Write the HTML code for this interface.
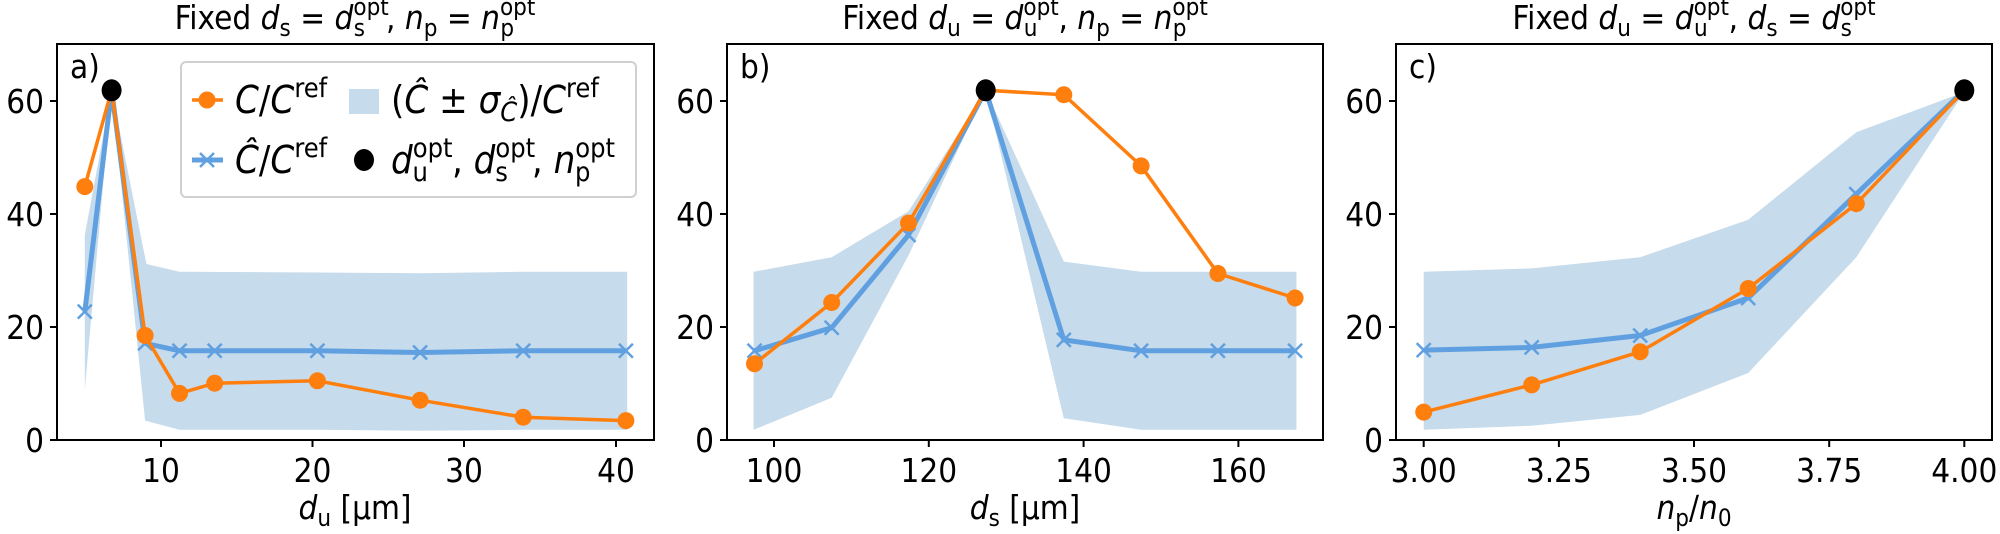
<!DOCTYPE html>
<html><head><meta charset="utf-8"><style>
body{margin:0;background:#fff}
svg{display:block;font-family:"DejaVu Sans Condensed","DejaVu Sans","Liberation Sans",sans-serif}
.t{font-size:33px;fill:#000}
.i{font-style:italic}
.s{font-size:24px}
.L{font-size:38px;fill:#000}
.ls{font-size:27px}
</style></head><body>
<svg width="2000" height="534" viewBox="0 0 2000 534" xmlns="http://www.w3.org/2000/svg">
<polygon fill="#c6dbeb" points="84.8,235 111.6,90.3 146.4,264 179.5,271.8 317.4,272.5 420.1,273.2 523.2,271.8 627.2,271.8 627.2,429.8 523.2,429.8 420.1,430.8 317.4,429.8 179.5,429.8 145.1,420.6 111.6,90.3 84.8,389.3"/>
<polygon fill="#c6dbeb" points="753.6,271.8 831.7,257.2 908.5,211.2 985.7,90.3 1063.8,261.6 1141.1,271.8 1217.9,271.8 1296.4,271.8 1296.4,429.8 1217.9,429.8 1141.1,429.8 1063.8,418.3 985.7,90.3 908.5,255.4 831.7,397.8 753.6,429.8"/>
<polygon fill="#c6dbeb" points="1423.7,271.8 1531.7,268.4 1640.2,257.2 1748.2,219.7 1856.3,132.2 1964.3,92 1856.3,257.2 1748.2,373 1640.2,414.9 1531.7,425.7 1423.7,429.8"/>
<g fill="none" stroke="#60a0e0" stroke-width="5" stroke-linejoin="round">
<polyline points="84.8,311.6 111.6,90.3 145.1,343.3 179.5,350.8 214.7,350.8 317.4,350.8 420.1,352.5 523.2,350.8 625.9,350.8"/>
<polyline points="754.5,350.8 831.7,327.7 908.5,235 985.7,90.3 1063.8,339.9 1141.1,350.8 1217.9,350.8 1295.1,350.8"/>
<polyline points="1423.7,350.1 1531.7,347.4 1640.2,335.5 1748.2,298 1856.3,194.1 1964.3,90.3"/>
</g>
<g stroke="#60a0e0" stroke-width="2.5">
<path d="M77.8 304.6l14 14M91.8 304.6l-14 14M138.1 336.3l14 14M152.1 336.3l-14 14M172.5 343.8l14 14M186.5 343.8l-14 14M207.7 343.8l14 14M221.7 343.8l-14 14M310.4 343.8l14 14M324.4 343.8l-14 14M413.1 345.5l14 14M427.1 345.5l-14 14M516.2 343.8l14 14M530.2 343.8l-14 14M618.9 343.8l14 14M632.9 343.8l-14 14"/>
<path d="M747.5 343.8l14 14M761.5 343.8l-14 14M824.7 320.7l14 14M838.7 320.7l-14 14M901.5 228l14 14M915.5 228l-14 14M1056.8 332.9l14 14M1070.8 332.9l-14 14M1134.1 343.8l14 14M1148.1 343.8l-14 14M1210.9 343.8l14 14M1224.9 343.8l-14 14M1288.1 343.8l14 14M1302.1 343.8l-14 14"/>
<path d="M1416.7 343.1l14 14M1430.7 343.1l-14 14M1524.7 340.4l14 14M1538.7 340.4l-14 14M1633.2 328.5l14 14M1647.2 328.5l-14 14M1741.2 291l14 14M1755.2 291l-14 14M1849.3 187.1l14 14M1863.3 187.1l-14 14"/>
</g>
<g fill="none" stroke="#ff7f0e" stroke-width="3.5" stroke-linejoin="round">
<polyline points="84.8,186.6 111.6,90.3 145.1,335.5 179.5,393.4 214.7,383.2 317.4,380.8 420.1,400.2 523.2,417.2 625.9,420.6"/>
<polyline points="754.5,363.8 831.7,302.5 908.5,223.1 985.7,90.3 1063.8,94.7 1141.1,165.9 1217.9,273.5 1295.1,298"/>
<polyline points="1423.7,412.1 1531.7,384.9 1640.2,351.8 1748.2,288.5 1856.3,203.7 1964.3,90.3"/>
</g>
<g fill="#ff7f0e">
<circle cx="84.8" cy="186.6" r="8.5"/><circle cx="145.1" cy="335.5" r="8.5"/><circle cx="179.5" cy="393.4" r="8.5"/><circle cx="214.7" cy="383.2" r="8.5"/><circle cx="317.4" cy="380.8" r="8.5"/><circle cx="420.1" cy="400.2" r="8.5"/><circle cx="523.2" cy="417.2" r="8.5"/><circle cx="625.9" cy="420.6" r="8.5"/>
<circle cx="754.5" cy="363.8" r="8.5"/><circle cx="831.7" cy="302.5" r="8.5"/><circle cx="908.5" cy="223.1" r="8.5"/><circle cx="1063.8" cy="94.7" r="8.5"/><circle cx="1141.1" cy="165.9" r="8.5"/><circle cx="1217.9" cy="273.5" r="8.5"/><circle cx="1295.1" cy="298" r="8.5"/>
<circle cx="1423.7" cy="412.1" r="8.5"/><circle cx="1531.7" cy="384.9" r="8.5"/><circle cx="1640.2" cy="351.8" r="8.5"/><circle cx="1748.2" cy="288.5" r="8.5"/><circle cx="1856.3" cy="203.7" r="8.5"/>
</g>
<g fill="#000"><ellipse cx="111.6" cy="90.3" rx="10" ry="11"/><ellipse cx="985.7" cy="90.3" rx="10" ry="11"/><ellipse cx="1964.3" cy="90.3" rx="10" ry="11"/></g>
<g fill="none" stroke="#000" stroke-width="2">
<rect x="57" y="44" width="597" height="396"/>
<rect x="727" y="44" width="596" height="396"/>
<rect x="1396" y="44" width="596" height="396"/>
<path d="M57 440h-7M57 327h-7M57 214h-7M57 101h-7M727 440h-7M727 327h-7M727 214h-7M727 101h-7M1396 440h-7M1396 327h-7M1396 214h-7M1396 101h-7"/>
<path d="M161 440v7M312.5 440v7M464 440v7M616 440v7M774 440v7M928.8 440v7M1083.6 440v7M1238.4 440v7M1423.7 440v7M1558.9 440v7M1694 440v7M1829.2 440v7M1964.3 440v7"/>
</g>
<g class="t" text-anchor="end">
<text x="44" y="452">0</text><text x="44" y="339">20</text><text x="44" y="226">40</text><text x="44" y="113">60</text>
<text x="714" y="452">0</text><text x="714" y="339">20</text><text x="714" y="226">40</text><text x="714" y="113">60</text>
<text x="1383" y="452">0</text><text x="1383" y="339">20</text><text x="1383" y="226">40</text><text x="1383" y="113">60</text>
</g>
<g class="t" text-anchor="middle">
<text x="161" y="482">10</text><text x="312.5" y="482">20</text><text x="464" y="482">30</text><text x="616" y="482">40</text>
<text x="774" y="482">100</text><text x="928.8" y="482">120</text><text x="1083.6" y="482">140</text><text x="1238.4" y="482">160</text>
<text x="1423.7" y="482">3.00</text><text x="1558.9" y="482">3.25</text><text x="1694" y="482">3.50</text><text x="1829.2" y="482">3.75</text><text x="1964.3" y="482">4.00</text>
<text x="355" y="519"><tspan class="i">d</tspan><tspan class="s" dy="7">u</tspan><tspan dy="-7"> [µm]</tspan></text>
<text x="1025" y="519"><tspan class="i">d</tspan><tspan class="s" dy="7">s</tspan><tspan dy="-7"> [µm]</tspan></text>
<text x="1694" y="519"><tspan class="i">n</tspan><tspan class="s" dy="7">p</tspan><tspan dy="-7">/</tspan><tspan class="i">n</tspan><tspan class="s" dy="7">0</tspan></text>
<text x="355" y="29">Fixed <tspan class="i">d</tspan><tspan class="s" dy="7">s</tspan><tspan dy="-7"> = </tspan><tspan class="i">d</tspan><tspan class="s" dy="-14">opt</tspan><tspan class="s" dx="-35" dy="21">s</tspan><tspan dx="21" dy="-7">, </tspan><tspan class="i">n</tspan><tspan class="s" dy="7">p</tspan><tspan dy="-7"> = </tspan><tspan class="i">n</tspan><tspan class="s" dy="-14">opt</tspan><tspan class="s" dx="-35" dy="21">p</tspan></text>
<text x="1025" y="29">Fixed <tspan class="i">d</tspan><tspan class="s" dy="7">u</tspan><tspan dy="-7"> = </tspan><tspan class="i">d</tspan><tspan class="s" dy="-14">opt</tspan><tspan class="s" dx="-35" dy="21">u</tspan><tspan dx="21" dy="-7">, </tspan><tspan class="i">n</tspan><tspan class="s" dy="7">p</tspan><tspan dy="-7"> = </tspan><tspan class="i">n</tspan><tspan class="s" dy="-14">opt</tspan><tspan class="s" dx="-35" dy="21">p</tspan></text>
<text x="1694" y="29">Fixed <tspan class="i">d</tspan><tspan class="s" dy="7">u</tspan><tspan dy="-7"> = </tspan><tspan class="i">d</tspan><tspan class="s" dy="-14">opt</tspan><tspan class="s" dx="-35" dy="21">u</tspan><tspan dx="21" dy="-7">, </tspan><tspan class="i">d</tspan><tspan class="s" dy="7">s</tspan><tspan dy="-7"> = </tspan><tspan class="i">d</tspan><tspan class="s" dy="-14">opt</tspan><tspan class="s" dx="-35" dy="21">s</tspan></text>
</g>
<g class="t"><text x="70" y="78">a)</text><text x="740" y="78">b)</text><text x="1409" y="78">c)</text></g>
<rect x="181" y="62" width="455" height="135" rx="5" fill="#fff" fill-opacity="0.85" stroke="#d0d0d0" stroke-width="2"/>
<path d="M192 100h31" stroke="#ff7f0e" stroke-width="3.5"/><circle cx="207" cy="100" r="8.5" fill="#ff7f0e"/>
<path d="M192 160h31" stroke="#60a0e0" stroke-width="5"/><path d="M200 153l14 14M214 153l-14 14" stroke="#60a0e0" stroke-width="2.5"/>
<rect x="349" y="89" width="30" height="25" fill="#c6dbeb"/>
<ellipse cx="364" cy="160" rx="10" ry="11" fill="#000"/>
<g class="L">
<text x="235" y="113"><tspan class="i">C</tspan>/<tspan class="i">C</tspan><tspan class="ls" dy="-16">ref</tspan></text>
<text x="235" y="173"><tspan class="i">Ĉ</tspan>/<tspan class="i">C</tspan><tspan class="ls" dy="-16">ref</tspan></text>
<text x="391" y="113">(<tspan class="i">Ĉ</tspan> ± <tspan class="i">σ</tspan><tspan class="ls i" dy="8">Ĉ</tspan><tspan dy="-8">)/</tspan><tspan class="i">C</tspan><tspan class="ls" dy="-16">ref</tspan></text>
<text x="391" y="173"><tspan class="i">d</tspan><tspan class="ls" dy="-16">opt</tspan><tspan class="ls" dx="-40" dy="24">u</tspan><tspan dx="24" dy="-8">, </tspan><tspan class="i">d</tspan><tspan class="ls" dy="-16">opt</tspan><tspan class="ls" dx="-40" dy="24">s</tspan><tspan dx="24" dy="-8">, </tspan><tspan class="i">n</tspan><tspan class="ls" dy="-16">opt</tspan><tspan class="ls" dx="-40" dy="24">p</tspan></text>
</g>
</svg>
</body></html>
